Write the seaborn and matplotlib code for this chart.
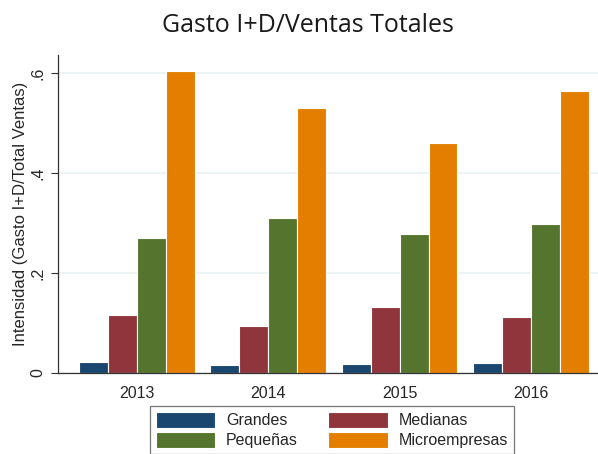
import matplotlib
matplotlib.use("Agg")
import matplotlib.pyplot as plt
import seaborn as sns
import pandas as pd

years = ["2013", "2014", "2015", "2016"]
grandes = [0.022, 0.016, 0.018, 0.020]
medianas = [0.116, 0.094, 0.132, 0.112]
pequenas = [0.270, 0.310, 0.278, 0.298]
micro = [0.605, 0.530, 0.460, 0.564]
series_names = ["Grandes", "Medianas", "Pequeñas", "Microempresas"]
colors = ["#1a476f", "#90353b", "#55752f", "#e37e00"]
yticks = [0, 0.2, 0.4, 0.6]
ytick_labels = ["0", ".2", ".4", ".6"]

rows = []
for name, vals in zip(series_names, [grandes, medianas, pequenas, micro]):
    for y, v in zip(years, vals):
        rows.append({"year": y, "serie": name, "value": v})
df = pd.DataFrame(rows)

sns.set_theme(style="white")
plt.rcParams["font.family"] = ["Liberation Sans", "DejaVu Sans"]

fig = plt.figure(figsize=(5.98, 4.54), dpi=100)
ax = fig.add_axes([58/598, 81/454, 540/598, 318/454])

sns.barplot(data=df, x="year", y="value", hue="serie", hue_order=series_names,
            palette=colors, width=0.88, edgecolor="white", linewidth=0.8,
            saturation=1, ax=ax, legend=False)

ax.set_xlim(-0.6, 3.51)
ax.set_ylim(0, 0.636)
ax.set_yticks(yticks)
ax.set_yticklabels(ytick_labels, rotation=90, va="center", fontsize=11.5)
ax.yaxis.grid(True, color="#eaf2f3", linewidth=1.2)
ax.set_axisbelow(True)
ax.tick_params(axis="y", left=True, length=5, width=0.8, color="#333333", pad=4)
ax.tick_params(axis="x", bottom=False, labelsize=11.5, pad=3)
for s in ["top", "right"]:
    ax.spines[s].set_visible(False)
for s in ["left", "bottom"]:
    ax.spines[s].set_color("#333333")
    ax.spines[s].set_linewidth(0.9)
ax.set_xlabel("")
ax.set_ylabel("Intensidad (Gasto I+D/Total Ventas)", fontsize=12, labelpad=2)

fig.text(308/598, 1 - 25/454, "Gasto I+D/Ventas Totales", ha="center", va="center",
         fontsize=18, family=["Open Sans", "DejaVu Sans"], color="#1a1a1a")

handles = {n: plt.Rectangle((0, 0), 1, 1, facecolor=c, edgecolor="white", linewidth=0.8)
           for n, c in zip(series_names, colors)}
order = ["Grandes", "Pequeñas", "Medianas", "Microempresas"]
leg = fig.legend([handles[n] for n in order], order, ncol=2, loc="center",
                 bbox_to_anchor=(332/598, 1 - 430/454), fontsize=11.5,
                 frameon=True, fancybox=False, edgecolor="#555555",
                 handlelength=3.7, handleheight=1.15, columnspacing=1.9,
                 handletextpad=0.7, labelspacing=0.25, borderpad=0.35,
                 borderaxespad=0)
leg.get_frame().set_linewidth(0.9)

fig.savefig("out.png", dpi=100)
